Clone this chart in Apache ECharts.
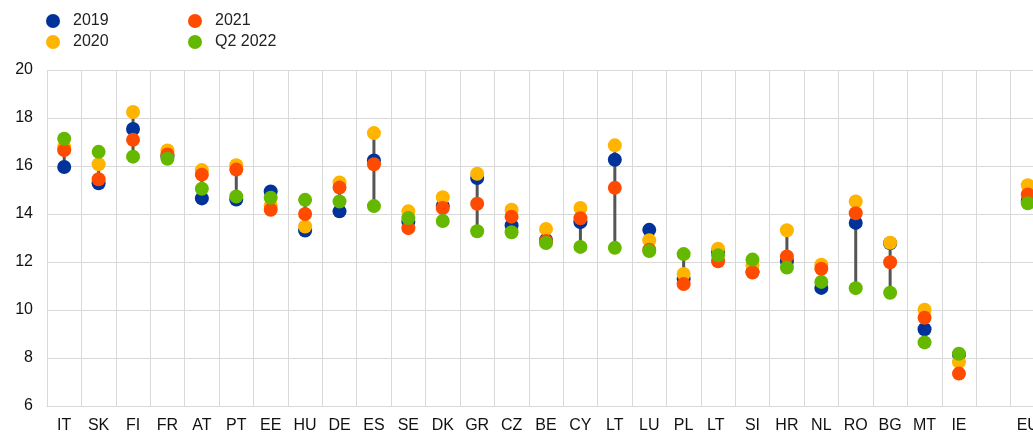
<!DOCTYPE html>
<html>
<head>
<meta charset="utf-8">
<script src="https://cdn.jsdelivr.net/npm/echarts@6/dist/echarts.min.js"></script>
<style>
  html, body { margin: 0; padding: 0; background: #fff; overflow: hidden; }
  /* a bit wider than the window so EU is cut off at the right, as in the original */
  #main { width: 1045px; height: 434px; }
</style>
</head>
<body>
<div id="main"></div>
<script>
// categories (empty slot before EU)
var countries = ['IT', 'SK', 'FI', 'FR', 'AT', 'PT', 'EE', 'HU', 'DE', 'ES', 'SE', 'DK', 'GR', 'CZ', 'BE',
  'CY', 'LT', 'LU', 'PL', 'LT ', 'SI', 'HR', 'NL', 'RO', 'BG', 'MT', 'IE', '', 'EU'];

// values
var y2019 = [15.96, 15.28, 17.54, 16.40, 14.65, 14.60, 14.94, 13.31, 14.11, 16.23, 13.68, 14.34, 15.50, 13.52, 12.92,
  13.66, 16.26, 13.34, 11.30, 12.41, 11.59, 12.03, 10.92, 13.63, 12.78, 9.20, 8.14, null, 14.55];
var y2020 = [16.80, 16.07, 18.25, 16.65, 15.83, 16.03, 14.35, 13.48, 15.31, 17.37, 14.11, 14.70, 15.68, 14.18, 13.38,
  14.25, 16.86, 12.91, 11.50, 12.55, 11.86, 13.32, 11.89, 14.52, 12.80, 10.01, 7.83, null, 15.20];
var y2021 = [16.66, 15.45, 17.09, 16.48, 15.64, 15.85, 14.18, 14.00, 15.10, 16.07, 13.41, 14.25, 14.43, 13.89, 12.87,
  13.82, 15.09, 12.51, 11.08, 12.03, 11.56, 12.23, 11.72, 14.03, 11.99, 9.68, 7.35, null, 14.81];
var q2022 = [17.14, 16.59, 16.39, 16.30, 15.05, 14.73, 14.68, 14.59, 14.52, 14.33, 13.83, 13.71, 13.28, 13.24, 12.79,
  12.63, 12.59, 12.46, 12.33, 12.28, 12.10, 11.77, 11.17, 10.91, 10.72, 8.65, 8.18, null, 14.45];

var seriesNames = ['2019', '2020', '2021', 'Q2 2022'];
var colors = ['#003299', '#ffb400', '#ff4b00', '#65b800'];

// range line per country, min to max of the four values
var ranges = countries.map(function (c, i) {
  var vals = [y2019[i], y2020[i], y2021[i], q2022[i]].filter(function (v) { return v != null; });
  if (!vals.length) return [i, null, null];
  return [i, Math.min.apply(null, vals), Math.max.apply(null, vals)];
});

var myChart = echarts.init(document.getElementById('main'), null, { renderer: 'canvas' });

var font = 'Liberation Sans, Arial, sans-serif';

function dots(name, data, color) {
  return {
    name: name,
    type: 'scatter',
    data: data,
    symbol: 'circle',
    symbolSize: 14,
    itemStyle: { color: color, opacity: 1 },
    z: 3
  };
}

function legendBox(names, left) {
  return {
    data: names,
    orient: 'vertical',
    left: left, top: 8,
    itemWidth: 14, itemHeight: 14, itemGap: 5,
    icon: 'circle',
    textStyle: { fontSize: 16, color: '#222', fontFamily: font, padding: [0, 0, 0, 8] }
  };
}

var option = {
  animation: false,
  backgroundColor: '#fff',
  color: colors,
  textStyle: { fontFamily: font },
  legend: [
    legendBox(['2019', '2020'], 41),
    legendBox(['2021', 'Q2 2022'], 183)
  ],
  grid: { left: 47, right: 0, top: 70, bottom: 26 },
  xAxis: {
    type: 'category',
    data: countries,
    boundaryGap: true,
    axisLine: { lineStyle: { color: '#d9d9d9', width: 1 } },
    axisTick: { show: false },
    splitLine: { show: true, lineStyle: { color: '#d9d9d9', width: 1 } },
    axisLabel: { fontSize: 16, color: '#111', margin: 12, interval: 0, fontFamily: font }
  },
  yAxis: {
    type: 'value',
    min: 6, max: 20, interval: 2,
    axisLine: { show: false },
    axisTick: { show: false },
    splitLine: { lineStyle: { color: '#d9d9d9', width: 1 } },
    axisLabel: { fontSize: 16, color: '#111', margin: 14, fontFamily: font }
  },
  series: [
    {
      type: 'custom',
      name: 'range',
      data: ranges,
      z: 2,
      renderItem: function (params, api) {
        var lo = api.value(1), hi = api.value(2);
        if (lo == null || isNaN(lo)) return;
        var p1 = api.coord([api.value(0), lo]);
        var p2 = api.coord([api.value(0), hi]);
        return {
          type: 'line',
          shape: { x1: p1[0], y1: p1[1], x2: p2[0], y2: p2[1] },
          style: { stroke: '#555555', lineWidth: 3 }
        };
      }
    },
    dots(seriesNames[0], y2019, colors[0]),
    dots(seriesNames[1], y2020, colors[1]),
    dots(seriesNames[2], y2021, colors[2]),
    dots(seriesNames[3], q2022, colors[3])
  ]
};

myChart.setOption(option);
</script>
</body>
</html>
